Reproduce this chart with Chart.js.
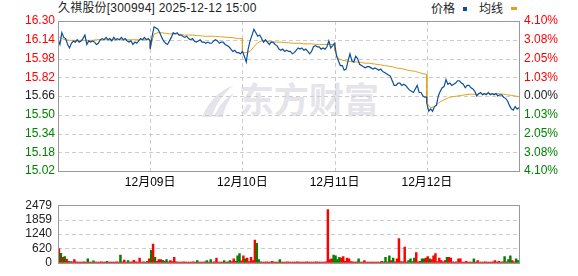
<!DOCTYPE html>
<html lang="zh-CN">
<head>
<meta charset="UTF-8">
<title>久祺股份 五日分时</title>
<script src="https://cdn.jsdelivr.net/npm/chart.js"></script>
<style>
    body {
        margin: 0;
        width: 578px;
        height: 276px;
        overflow: hidden;
        position: relative;
        background: #fff;
        font-family: "Liberation Sans", Arial, "Noto Sans CJK SC", sans-serif;
    }
    #title {
        position: absolute; left: 58px; top: 0; font-size: 12px; line-height: 16px; color: #222;
        letter-spacing: 0.2px;
    }
    #legend {
        position: absolute; left: 431px; top: 0; font-size: 12px; line-height: 16px; color: #222;
        font-family: "Noto Sans CJK SC", sans-serif;
    }
    #legend i { display: inline-block; vertical-align: top; }
    .mark {
        position: absolute; left: 198px; top: 72px; color: #e4e4ea;
        font: bold 35px "Noto Sans CJK SC", sans-serif; white-space: nowrap; z-index: 0;
    }
    .mark svg { vertical-align: -6px; margin-right: 3px; }
    #priceBox { position: absolute; left: 0; top: 0; z-index: 1; }
    #volBox { position: absolute; left: 0; top: 192px; z-index: 1; }
</style>
</head>
<body>

<div class="mark">
    <svg width="38" height="36" viewBox="0 0 38 36">
        <path d="M4 34 C10 20 20 8 36 2 C26 10 18 20 14 34 Z" fill="#e4e4ea"/>
        <path d="M16 34 C20 24 26 16 36 10 C30 18 26 26 25 34 Z" fill="#e4e4ea"/>
    </svg>东方财富
</div>
<div id="title">久祺股份[300994] 2025-12-12 15:00</div>
<div id="legend">价格<i style="width:4px;height:4px;background:#0a4f9e;margin:7px 12px 0 8px"></i>均线<i style="width:6px;height:3px;background:#e0a21c;margin:7px 0 0 8px"></i></div>

<canvas id="priceBox" width="578" height="192"></canvas>
<canvas id="volBox" width="578" height="84"></canvas>

<script>
// 五日分时，每日 240 分钟
const dayMinutes = 240;
const dayLabels = ['12月09日', '12月10日', '12月11日', '12月12日'];
const prevClose = 15.66;
const priceTicks = [15.02, 15.18, 15.34, 15.50, 15.66, 15.82, 15.98, 16.14, 16.30];
// same order as priceTicks (bottom to top)
const pctTicks = ['4.10%', '3.08%', '2.05%', '1.03%', '0.00%', '1.03%', '2.05%', '3.08%', '4.10%'];
const volTicks = [0, 620, 1240, 1859, 2479];

// price, every 5 minutes
const price1 = [16.14, 16.10, 16.20, 16.16, 16.15, 16.10, 16.07, 16.11, 16.13, 16.12,
    16.14, 16.12, 16.13, 16.15, 16.18, 16.10, 16.13, 16.12, 16.13, 16.12,
    16.10, 16.11, 16.14, 16.15, 16.14, 16.16, 16.14, 16.15, 16.13, 16.16,
    16.14, 16.15, 16.14, 16.16, 16.14, 16.15, 16.13, 16.12, 16.13, 16.10,
    16.12, 16.11, 16.13, 16.15, 16.14, 16.16, 16.14, 16.15, 16.13];
const price2 = [16.06, 16.17, 16.25, 16.24, 16.23, 16.20, 16.16, 16.13, 16.11, 16.10,
    16.13, 16.16, 16.20, 16.19, 16.20, 16.18, 16.18, 16.17, 16.16, 16.17,
    16.15, 16.14, 16.15, 16.13, 16.12, 16.13, 16.14, 16.12, 16.12, 16.11,
    16.12, 16.11, 16.11, 16.13, 16.14, 16.13, 16.11, 16.12, 16.12, 16.10,
    16.09, 16.08, 16.06, 16.04, 16.05, 16.03, 16.03, 16.02, 16.04];
const price3 = [16.04, 16.00, 15.95, 16.06, 16.13, 16.18, 16.23, 16.20, 16.17, 16.18,
    16.15, 16.12, 16.14, 16.12, 16.10, 16.12, 16.12, 16.10, 16.09, 16.06,
    16.05, 16.06, 16.04, 16.05, 16.04, 16.04, 16.02, 16.03, 16.05, 16.07,
    16.06, 16.07, 16.05, 16.06, 16.04, 16.02, 16.04, 16.08, 16.09, 16.08,
    16.08, 16.06, 16.07, 16.06, 16.08, 16.13, 16.07, 16.09, 16.11];
const price4 = [16.11, 16.00, 15.96, 15.92, 15.92, 15.88, 15.89, 15.96, 16.02, 15.96,
    15.95, 16.00, 15.98, 15.93, 15.92, 15.91, 15.90, 15.91, 15.91, 15.90,
    15.89, 15.90, 15.89, 15.88, 15.89, 15.87, 15.86, 15.85, 15.84, 15.83,
    15.79, 15.75, 15.75, 15.77, 15.77, 15.75, 15.76, 15.75, 15.73, 15.71,
    15.70, 15.69, 15.72, 15.75, 15.69, 15.69, 15.66, 15.65, 15.65];
const price5 = [15.60, 15.53, 15.55, 15.53, 15.57, 15.58, 15.66, 15.70, 15.73, 15.74,
    15.80, 15.76, 15.77, 15.75, 15.76, 15.77, 15.79, 15.79, 15.77, 15.76,
    15.73, 15.75, 15.75, 15.73, 15.72, 15.70, 15.66, 15.68, 15.69, 15.67,
    15.68, 15.67, 15.69, 15.67, 15.68, 15.67, 15.68, 15.66, 15.67, 15.67,
    15.65, 15.64, 15.62, 15.58, 15.55, 15.54, 15.57, 15.55, 15.56];

// average price, every 10 minutes
const avg1 = [16.17, 16.15, 16.14, 16.135, 16.135, 16.135, 16.135, 16.135, 16.135, 16.135,
    16.14, 16.14, 16.14, 16.14, 16.14, 16.14, 16.14, 16.14, 16.14, 16.14, 16.14, 16.14, 16.14, 16.14, 16.14];
const avg2 = [16.07, 16.19, 16.20, 16.20, 16.195, 16.19, 16.19, 16.19, 16.185, 16.18,
    16.18, 16.18, 16.175, 16.175, 16.17, 16.17, 16.17, 16.17, 16.165, 16.165, 16.16, 16.16, 16.155, 16.15, 16.15];
const avg3 = [16.03, 16.03, 16.04, 16.08, 16.115, 16.13, 16.13, 16.125, 16.12, 16.12,
    16.12, 16.115, 16.115, 16.11, 16.11, 16.11, 16.105, 16.105, 16.105, 16.10, 16.10, 16.10, 16.10, 16.10, 16.10];
const avg4 = [16.05, 15.98, 15.965, 15.96, 15.955, 15.95, 15.95, 15.945, 15.94, 15.94,
    15.935, 15.93, 15.925, 15.92, 15.915, 15.91, 15.90, 15.895, 15.89, 15.88, 15.875, 15.87, 15.86, 15.85, 15.845];
const avg5 = [15.60, 15.56, 15.57, 15.60, 15.62, 15.635, 15.65, 15.655, 15.66, 15.665,
    15.67, 15.675, 15.675, 15.675, 15.68, 15.68, 15.68, 15.68, 15.68, 15.68, 15.675, 15.67, 15.665, 15.66, 15.655];

// volume per 5-minute slot, with up (r) / down (g) direction
const vol1 = [616, 410, 235, 270, 145, 60, 50, 40, 134, 40, 30, 35, 30, 40, 30, 168, 35, 30, 80, 30, 35, 30, 40, 30,
    35, 60, 30, 30, 35, 30, 40, 30, 336, 40, 120, 30, 100, 35, 40, 110, 40, 30, 200, 35, 40, 30, 60, 168];
const dir1 = 'rgrgrrgrrr' + 'rrrrrgrrgr' + 'rrrrrgrrrr' + 'rrgrrrgrrr' + 'rrrrrrgr';
const vol2 = [537, 806, 235, 60, 134, 134, 110, 60, 134, 40, 100, 50, 235, 40, 30, 35, 30, 40, 30, 35, 30, 30, 40, 30,
    100, 30, 35, 30, 40, 100, 35, 134, 30, 40, 200, 30, 35, 30, 100, 30, 40, 100, 50, 168, 60, 300, 400, 80];
const dir2 = 'grgrrrgrgr' + 'rrrrrrrrrr' + 'rrrrgrrrrg' + 'rgrrrrrrgr' + 'rgrrrggr';
const vol3 = [300, 168, 200, 50, 235, 100, 975, 840, 134, 40, 35, 30, 40, 30, 35, 67, 30, 35, 30, 134, 30, 35, 30, 40,
    30, 35, 30, 30, 40, 30, 35, 30, 30, 40, 30, 35, 30, 30, 40, 30, 35, 30, 30, 40, 2287, 134, 168, 336];
const dir3 = 'rgrrrrrggr' + 'rrrrrrrrrg' + 'rrrrrrrrrr' + 'rrrrrrrrrr' + 'rrrrrrrg';
const vol4 = [300, 134, 235, 200, 270, 60, 200, 168, 50, 40, 35, 40, 168, 30, 35, 100, 30, 35, 30, 30, 35, 30, 30, 35,
    67, 40, 235, 40, 300, 100, 200, 40, 168, 1043, 50, 40, 673, 40, 100, 168, 50, 200, 437, 40, 60, 168, 168, 200];
const dir4 = 'gggrrrrrrr' + 'rrgrrrrrrr' + 'rrrrgrgrgr' + 'grrrrrrrgg' + 'rgrrrggr';
const vol5 = [270, 168, 134, 300, 400, 50, 200, 100, 40, 100, 235, 235, 200, 40, 35, 40, 168, 168, 35, 30, 67, 30, 35, 30,
    168, 30, 100, 30, 35, 30, 40, 30, 35, 30, 40, 100, 30, 67, 30, 40, 270, 40, 134, 300, 100, 40, 168, 100];
const dir5 = 'rgrrrrrrrr' + 'grrrrrrrrr' + 'rrrrgrrrrr' + 'rrrrrrrrrr' + 'grggrrgg';

const RED = '#ff0000';
const GREEN = '#008000';
const DARK = '#222';
const GRID = '#cccccc';

function toPoints(days) {
    const pts = [];
    days.forEach((arr, d) => {
        const step = dayMinutes / (arr.length - 1);
        arr.forEach((v, i) => pts.push({x: d * dayMinutes + i * step, y: v}));
    });
    return pts;
}

const volPoints = [];
const volColors = [];
[vol1, vol2, vol3, vol4, vol5].forEach((arr, d) => {
    const dirs = [dir1, dir2, dir3, dir4, dir5][d];
    const step = dayMinutes / arr.length;
    arr.forEach((v, i) => {
        volPoints.push({x: d * dayMinutes + (i + 0.5) * step, y: v});
        volColors.push(dirs[i] === 'g' ? GREEN : RED);
    });
});

// dashed grid + grey frame drawn by hand
const frame = {
    id: 'frame',
    beforeDatasetsDraw(chart, args, opts) {
        const {ctx, chartArea: a, scales} = chart;
        ctx.save();
        ctx.strokeStyle = GRID;
        ctx.lineWidth = 1;
        ctx.setLineDash([4, 3]);
        ctx.beginPath();
        if (opts.vertical) {
            scales.x.ticks.forEach(t => {
                const px = Math.round(scales.x.getPixelForValue(t.value)) + 0.5;
                ctx.moveTo(px, a.top);
                ctx.lineTo(px, a.bottom);
            });
        }
        scales.y.ticks.forEach(t => {
            const py = Math.round(scales.y.getPixelForValue(t.value)) + 0.5;
            ctx.moveTo(a.left, py);
            ctx.lineTo(a.right, py);
        });
        ctx.stroke();
        ctx.restore();
    },
    afterDatasetsDraw(chart) {
        const {ctx, chartArea: a} = chart;
        ctx.save();
        ctx.strokeStyle = '#999';
        ctx.lineWidth = 1;
        ctx.strokeRect(Math.floor(a.left) + 0.5, Math.floor(a.top) + 0.5,
            Math.round(a.right - a.left), Math.round(a.bottom - a.top));
        ctx.restore();
    }
};

Chart.defaults.font.family = '"Liberation Sans", Arial, "Noto Sans CJK SC", sans-serif';
Chart.defaults.font.size = 12;

const priceColor = c => {
    const v = c.tick.value;
    if (v > prevClose + 1e-6) return RED;
    if (v < prevClose - 1e-6) return GREEN;
    return DARK;
};

new Chart(document.getElementById('priceBox'), {
    type: 'line',
    data: {
        datasets: [{
            label: '价格',
            data: toPoints([price1, price2, price3, price4, price5]),
            borderColor: '#0a4f9e',
            borderWidth: 1.2,
            pointRadius: 0
        }, {
            label: '均线',
            data: toPoints([avg1, avg2, avg3, avg4, avg5]),
            borderColor: '#e0a21c',
            borderWidth: 1,
            pointRadius: 0
        }]
    },
    options: {
        responsive: false,
        animation: false,
        events: [],
        layout: { padding: { top: 21 } },
        plugins: { legend: { display: false }, tooltip: { enabled: false }, frame: { vertical: true } },
        scales: {
            x: {
                type: 'linear', min: 0, max: dayMinutes * 5,
                afterBuildTicks: s => { s.ticks = [1, 2, 3, 4].map(d => ({value: d * dayMinutes})); },
                ticks: { callback: (v, i) => dayLabels[i], color: '#000', padding: 4, maxRotation: 0, autoSkip: false },
                grid: { display: false, drawTicks: false },
                border: { display: false },
                afterFit: s => { s.height = 21; }
            },
            y: {
                position: 'left', min: 15.02, max: 16.30,
                afterBuildTicks: s => { s.ticks = priceTicks.map(v => ({value: v})); },
                ticks: { callback: v => v.toFixed(2), color: priceColor, padding: 3, autoSkip: false },
                grid: { display: false, drawTicks: false },
                border: { display: false },
                afterFit: s => { s.width = 58; }
            },
            yR: {
                position: 'right', min: 15.02, max: 16.30,
                afterBuildTicks: s => { s.ticks = priceTicks.map(v => ({value: v})); },
                ticks: { callback: (v, i) => pctTicks[i], color: priceColor, padding: 5, autoSkip: false },
                grid: { display: false, drawTicks: false },
                border: { display: false },
                afterFit: s => { s.width = 59; }
            }
        }
    },
    plugins: [frame]
});

new Chart(document.getElementById('volBox'), {
    type: 'bar',
    data: {
        datasets: [{
            label: '成交量',
            data: volPoints,
            backgroundColor: volColors,
            barThickness: 1.8,
            borderWidth: 0
        }]
    },
    options: {
        responsive: false,
        animation: false,
        events: [],
        layout: { padding: { top: 4, bottom: 6, right: 59 } },
        plugins: { legend: { display: false }, tooltip: { enabled: false }, frame: { vertical: false } },
        scales: {
            x: { type: 'linear', min: 0, max: dayMinutes * 5, offset: false, display: false },
            y: {
                min: 0, max: 2479,
                afterBuildTicks: s => { s.ticks = volTicks.map(v => ({value: v})); },
                ticks: { callback: v => v, color: DARK, padding: 6, autoSkip: false },
                grid: { display: false, drawTicks: false },
                border: { display: false },
                afterFit: s => { s.width = 58; }
            }
        }
    },
    plugins: [frame]
});
</script>
</body>
</html>
